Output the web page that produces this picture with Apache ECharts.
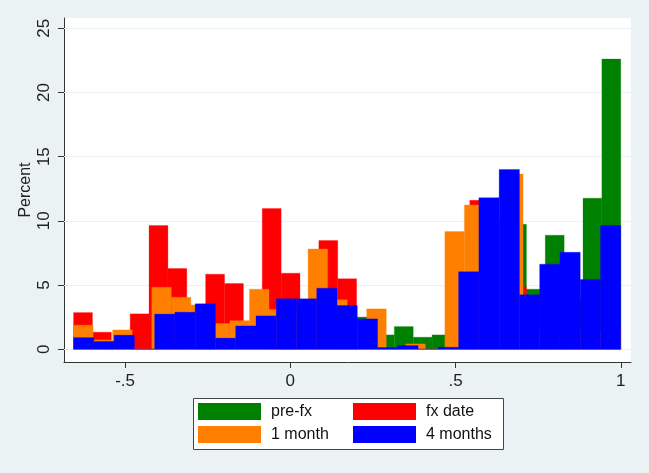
<!DOCTYPE html>
<html>
<head>
<meta charset="utf-8">
<script src="https://cdn.jsdelivr.net/npm/echarts@6/dist/echarts.min.js"></script>
<style>
html,body{margin:0;padding:0;background:#EAF2F3;}
#chart{width:649px;height:473px;}
</style>
</head>
<body>
<div id="chart"></div>
<script>
// Histogram range shared by all four series (data min / max)
var binStart = -0.656;
var binEnd = 1.0;

// Percent per bin
var preFx = [1.0, 0.5, 0.6, 1.5, 2.0, 2.0, 1.5, 1.5, 1.5, 1.2, 1.5, 1.0, 1.0, 0.5, 0.5,
             2.5, 1.11, 1.76, 0.93, 1.11, 3.0, 5.0, 6.0, 9.73, 4.67, 8.88, 4.0, 11.76, 22.6];
var fxDate = [2.85, 1.32, 0.3, 2.75, 9.63, 6.28, 2.0, 5.84, 5.11, 1.8, 10.95, 5.92, 3.0, 8.46, 5.48,
              1.0, 0, 0, 0, 0, 2.0, 11.6, 6.0, 4.87, 1.5, 0.8, 1.0, 0.5, 0];
var oneMonth = [1.87, 0.72, 1.5, 0, 4.83, 4.05, 3.45, 2.0, 2.22, 4.67, 3.1, 3.0, 7.81, 3.84,
                2.0, 3.14, 0, 0.41, 0, 9.16, 11.24, 10.0, 13.65, 1.5, 1.5, 1.5, 1.3, 1.5];
var fourMonths = [0.90, 0.60, 1.09, 0, 2.73, 2.88, 3.53, 0.86, 1.81, 2.59, 3.92, 3.92, 4.75, 3.40,
                  2.36, 0.13, 0.28, 0, 0.15, 6.04, 11.8, 14.0, 4.23, 6.62, 7.55, 5.42, 9.63];

var seriesNames = ['pre-fx', 'fx date', '1 month', '4 months'];
var seriesColors = ['#008000', '#FF0000', '#FF8000', '#0000FF'];

var xTicks = [-0.5, 0, 0.5, 1];
var xTickLabels = ['-.5', '0', '.5', '1'];
var yTicks = [0, 5, 10, 15, 20, 25];
var yTickLabels = ['0', '5', '10', '15', '20', '25'];

function bins(values) {
  var n = values.length, w = (binEnd - binStart) / n;
  return values.map(function (v, k) {
    return [binStart + k * w, binStart + (k + 1) * w, v];
  });
}

function histSeries(name, color, values, z) {
  return {
    type: 'custom',
    name: name,
    z: z,
    itemStyle: {color: color},
    encode: {x: [0, 1], y: 2},
    data: bins(values),
    silent: true,
    renderItem: function (params, api) {
      var p0 = api.coord([api.value(0), api.value(2)]);
      var p1 = api.coord([api.value(1), 0]);
      return {
        type: 'rect',
        shape: {x: p0[0], y: p0[1], width: p1[0] - p0[0], height: p1[1] - p0[1]},
        style: {fill: color, stroke: color, lineWidth: 0.3}
      };
    }
  };
}

function labelFor(ticks, labels) {
  return function (v) {
    for (var i = 0; i < ticks.length; i++) {
      if (Math.abs(ticks[i] - v) < 1e-9) return labels[i];
    }
    return '';
  };
}

var font = 'Liberation Sans, Arial, sans-serif';
var chart = echarts.init(document.getElementById('chart'));
var legendCommon = {
  orient: 'vertical', itemWidth: 63, itemHeight: 17, itemGap: 6, padding: 0,
  icon: 'rect', selectedMode: false,
  textStyle: {fontSize: 16, fontFamily: font, color: '#111', padding: [0, 0, 0, 5]}
};

chart.setOption({
  backgroundColor: '#EAF2F3',
  animation: false,
  grid: {left: 64, right: 18, top: 18, bottom: 111, show: true, backgroundColor: '#fff', borderWidth: 0},
  xAxis: {
    type: 'value', min: -0.685, max: 1.031,
    axisLine: {show: true, onZero: false, lineStyle: {color: '#333', width: 1}},
    axisTick: {show: true, length: 6, customValues: xTicks, lineStyle: {color: '#333'}},
    axisLabel: {customValues: xTicks, formatter: labelFor(xTicks, xTickLabels), fontSize: 17, fontFamily: font, color: '#222', margin: 11},
    splitLine: {show: false}
  },
  yAxis: {
    type: 'value', min: -1, max: 25.8,
    name: 'Percent', nameLocation: 'middle', nameGap: 30, nameRotate: 90, nameMoveOverlap: false,
    nameTextStyle: {fontSize: 16, fontFamily: font, color: '#222'},
    axisLine: {show: true, onZero: false, lineStyle: {color: '#333', width: 1}},
    axisTick: {show: true, length: 6, customValues: yTicks, lineStyle: {color: '#333'}},
    axisLabel: {customValues: yTicks, formatter: labelFor(yTicks, yTickLabels), rotate: 90, fontSize: 17, fontFamily: font, color: '#222', margin: 11},
    splitLine: {show: false}
  },
  legend: [
    Object.assign({data: [seriesNames[0], seriesNames[2]], left: 198, top: 403}, legendCommon),
    Object.assign({data: [seriesNames[1], seriesNames[3]], left: 353, top: 403}, legendCommon)
  ],
  graphic: [{
    type: 'rect', left: 193, top: 398, z: -10,
    shape: {width: 310, height: 51},
    style: {fill: '#fff', stroke: '#444', lineWidth: 1}
  }],
  series: [
    {
      type: 'line', name: 'grid', z: 1, silent: true, symbol: 'none',
      data: [[0, 0]], lineStyle: {width: 0},
      markLine: {
        z: 1, silent: true, symbol: 'none', label: {show: false},
        lineStyle: {color: '#EAF2F3', type: 'solid', width: 1.2},
        data: yTicks.map(function (v) { return {yAxis: v}; })
      }
    },
    histSeries(seriesNames[0], seriesColors[0], preFx, 10),
    histSeries(seriesNames[1], seriesColors[1], fxDate, 11),
    histSeries(seriesNames[2], seriesColors[2], oneMonth, 12),
    histSeries(seriesNames[3], seriesColors[3], fourMonths, 13)
  ]
});
</script>
</body>
</html>
